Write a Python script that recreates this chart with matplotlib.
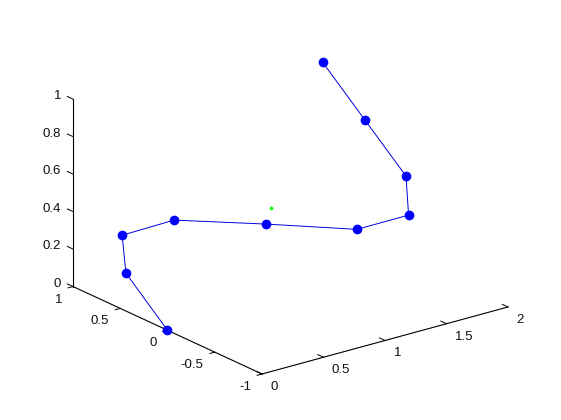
import matplotlib
matplotlib.use('Agg')
import matplotlib.pyplot as plt
from mpl_toolkits.mplot3d import proj3d

plt.rcParams['font.family'] = ['Liberation Sans', 'DejaVu Sans']

# arm points
xs = [0.0, 0.0, 0.0, 0.437, 1.185, 1.54, 1.96, 1.939, 1.836, 1.80]
ys = [0.0, 0.44, 0.48, 0.5, 0.5, 0.0, 0.0, 0.0, 0.3, 0.7]
zs = [0.0, 0.202, 0.395, 0.393, 0.238, 0.263, 0.264, 0.476, 0.723, 0.944]
target = [0.841, 0.0, 0.5]

xticks = [0, 0.5, 1, 1.5, 2]
yticks = [-1, -0.5, 0, 0.5, 1]
zticks = [0, 0.2, 0.4, 0.6, 0.8, 1]


def lab(v):
    return '%g' % v


fig = plt.figure(figsize=(5.61, 4.2), dpi=100, facecolor='white')
ax = fig.add_axes([0, 0, 420 / 561, 1], projection='3d')
ax.set_proj_type('ortho')
ax.view_init(elev=20.8, azim=232.5)
ax.set_box_aspect((310.1, 310.5, 200.5))
ax.set_xlim(0, 2)
ax.set_ylim(-1, 1)
ax.set_zlim(0, 1)
ax.set_axis_off()
ax.patch.set_alpha(0)


def to_px(x, y, z):
    px, py, _ = proj3d.proj_transform(x, y, z, ax.get_proj())
    return ax.transData.transform((px, py))


# scale and shift the axes so the corners land where the reference has them
fig.canvas.draw()
p0 = to_px(0, -1, 0)
p1 = to_px(2, -1, 0)
side = 420 * 246.0 / (p1[0] - p0[0])
ax.set_position([0, 0, side / 561, side / 420])
fig.canvas.draw()
p0 = to_px(0, -1, 0)
ax.set_position([(262 - p0[0]) / 561, (420 - 374 - p0[1]) / 420, side / 561, side / 420])
fig.canvas.draw()

# axis lines and ticks
ax.plot([0, 2], [-1, -1], [0, 0], color='k', lw=0.8)
ax.plot([0, 0], [-1, 1], [0, 0], color='k', lw=0.8)
ax.plot([0, 0], [1, 1], [0, 1], color='k', lw=0.8)
for t in xticks:
    ax.plot([t, t], [-1, -0.94], [0, 0], color='k', lw=0.7)
for t in yticks:
    ax.plot([0, -0.04], [t, t], [0, 0], color='k', lw=0.7)
for t in zticks:
    ax.plot([0, 0], [1, 1.06], [t, t], color='k', lw=0.7)

ax.plot(xs, ys, zs, '-', color='#0000e0', lw=0.7)
ax.plot(xs, ys, zs, 'o', color='#0000ff', ms=7, mew=0)
ax.plot([target[0]], [target[1]], [target[2]], 'o', color='#00ff00', ms=2.6, mew=0)


def tick_text(s, pos, dx, dy, ha):
    px, py, _ = proj3d.proj_transform(pos[0], pos[1], pos[2], ax.get_proj())
    ax.annotate(s, (px, py), xytext=(dx, dy), textcoords='offset pixels',
                ha=ha, va='center', fontsize=9.5, color='#111111', annotation_clip=False)


for t in xticks:
    tick_text(lab(t), (t, -1, 0), 8.5, -13, 'left')
for t in yticks:
    tick_text(lab(t), (0, t, 0), -11, -13, 'right')
for t in zticks:
    tick_text(lab(t), (0, 1, t), -12, 3, 'right')

fig.savefig('out.png', dpi=100, facecolor='white')
